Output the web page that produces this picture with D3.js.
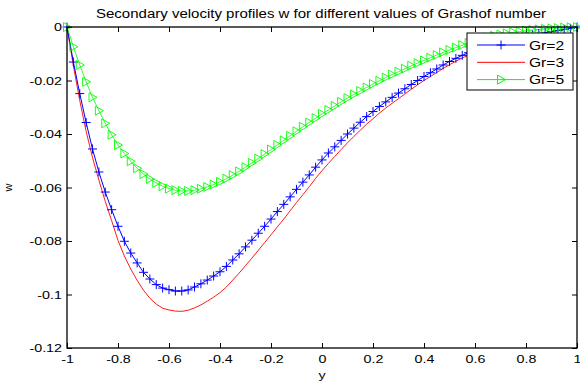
<!DOCTYPE html>
<html>
<head>
<meta charset="utf-8">
<script src="https://cdn.jsdelivr.net/npm/d3@7"></script>
<style>
  body { margin: 0; background: #fff; }
  text { font-family: "Liberation Sans", Arial, sans-serif; fill: #000; }
</style>
</head>
<body>
<div id="chart"></div>
<script>
// grid of y positions (81 points, step 0.025)
const yGrid = [-1,-0.975,-0.95,-0.925,-0.9,-0.875,-0.85,-0.825,-0.8,-0.775,-0.75,-0.725,-0.7,-0.675,-0.65,-0.625,-0.6,-0.575,-0.55,-0.525,
  -0.5,-0.475,-0.45,-0.425,-0.4,-0.375,-0.35,-0.325,-0.3,-0.275,-0.25,-0.225,-0.2,-0.175,-0.15,-0.125,-0.1,-0.075,-0.05,-0.025,
  0,0.025,0.05,0.075,0.1,0.125,0.15,0.175,0.2,0.225,0.25,0.275,0.3,0.325,0.35,0.375,0.4,0.425,0.45,0.475,
  0.5,0.525,0.55,0.575,0.6,0.625,0.65,0.675,0.7,0.725,0.75,0.775,0.8,0.825,0.85,0.875,0.9,0.925,0.95,0.975,1];

const wGr2 = [0,-0.0131,-0.0249,-0.0357,-0.0456,-0.0542,-0.0617,-0.0683,-0.0745,-0.0801,
  -0.0845,-0.0882,-0.0917,-0.0942,-0.0963,-0.0976,-0.0982,-0.0987,-0.0987,-0.0983,
  -0.0972,-0.0960,-0.0946,-0.0931,-0.0915,-0.0895,-0.0871,-0.0848,-0.0822,-0.0797,
  -0.0771,-0.0745,-0.0718,-0.0690,-0.0663,-0.0635,-0.0607,-0.0580,-0.0553,-0.0524,
  -0.0497,-0.0471,-0.0448,-0.0424,-0.0400,-0.0378,-0.0356,-0.0335,-0.0316,-0.0297,
  -0.0280,-0.0263,-0.0247,-0.0231,-0.0215,-0.0200,-0.0185,-0.0171,-0.0157,-0.0142,
  -0.0129,-0.0117,-0.0106,-0.0096,-0.0087,-0.0078,-0.0070,-0.0063,-0.0056,-0.0050,
  -0.0044,-0.0039,-0.0034,-0.0029,-0.0025,-0.0021,-0.0017,-0.0013,-0.0009,-0.0005,0];

const wGr3 = [0,-0.0145,-0.0275,-0.0390,-0.0488,-0.0572,-0.0652,-0.0724,-0.0798,-0.0856,
  -0.0905,-0.0947,-0.0984,-0.1014,-0.1036,-0.1051,-0.1058,-0.1062,-0.1063,-0.1059,
  -0.1050,-0.1039,-0.1025,-0.1010,-0.0993,-0.0972,-0.0946,-0.0920,-0.0892,-0.0864,
  -0.0835,-0.0806,-0.0777,-0.0747,-0.0718,-0.0687,-0.0656,-0.0627,-0.0597,-0.0566,
  -0.0537,-0.0510,-0.0484,-0.0458,-0.0433,-0.0409,-0.0386,-0.0363,-0.0343,-0.0322,
  -0.0303,-0.0285,-0.0268,-0.0250,-0.0233,-0.0216,-0.0200,-0.0185,-0.0170,-0.0155,
  -0.0141,-0.0128,-0.0116,-0.0105,-0.0095,-0.0085,-0.0076,-0.0068,-0.0061,-0.0054,
  -0.0048,-0.0042,-0.0037,-0.0032,-0.0027,-0.0023,-0.0018,-0.0014,-0.0010,-0.0005,0];

const wGr5 = [0,-0.0074,-0.0142,-0.0205,-0.0263,-0.0313,-0.0360,-0.0403,-0.0441,-0.0473,
  -0.0502,-0.0528,-0.0550,-0.0568,-0.0583,-0.0595,-0.0604,-0.0610,-0.0613,-0.0613,
  -0.0610,-0.0605,-0.0598,-0.0589,-0.0579,-0.0567,-0.0554,-0.0540,-0.0524,-0.0508,
  -0.0492,-0.0475,-0.0458,-0.0441,-0.0424,-0.0407,-0.0390,-0.0373,-0.0357,-0.0341,
  -0.0325,-0.0310,-0.0295,-0.0280,-0.0266,-0.0252,-0.0239,-0.0226,-0.0213,-0.0201,
  -0.0189,-0.0178,-0.0167,-0.0156,-0.0145,-0.0135,-0.0125,-0.0115,-0.0105,-0.0095,
  -0.0086,-0.0077,-0.0068,-0.0060,-0.0052,-0.0045,-0.0039,-0.0033,-0.0028,-0.0024,
  -0.0020,-0.0017,-0.0014,-0.0011,-0.0009,-0.0007,-0.0005,-0.0004,-0.0002,-0.0001,0];

const seriesNames = ["Gr=2", "Gr=3", "Gr=5"];
const xTicks = [-1, -0.8, -0.6, -0.4, -0.2, 0, 0.2, 0.4, 0.6, 0.8, 1];
const yTicks = [-0.12, -0.1, -0.08, -0.06, -0.04, -0.02, 0];

const width = 580;
const height = 385;
const margin = { top: 27, right: 3, bottom: 37, left: 67 };
const stretch = 1.3; // the original text is wider than it is tall

const svg = d3.select("#chart")
  .append("svg")
  .attr("width", width)
  .attr("height", height);

const x = d3.scaleLinear().domain([-1, 1]).range([margin.left, width - margin.right]);
const y = d3.scaleLinear().domain([-0.12, 0]).range([height - margin.bottom, margin.top]);

// axes, ticks pointing inward like matlab
const xAxis = svg.append("g")
  .attr("transform", `translate(0,${height - margin.bottom})`)
  .call(d3.axisBottom(x).tickValues(xTicks).tickFormat(d => String(d))
    .tickSizeInner(-5).tickSizeOuter(0).tickPadding(7));
const yAxis = svg.append("g")
  .attr("transform", `translate(${margin.left},0)`)
  .call(d3.axisLeft(y).tickValues(yTicks).tickFormat(d => String(d))
    .tickSizeInner(-5).tickSizeOuter(0).tickPadding(5));
svg.append("g")
  .attr("transform", `translate(0,${margin.top})`)
  .call(d3.axisTop(x).tickValues(xTicks).tickFormat("").tickSizeInner(-5).tickSizeOuter(0));
svg.append("g")
  .attr("transform", `translate(${width - margin.right},0)`)
  .call(d3.axisRight(y).tickValues(yTicks).tickFormat("").tickSizeInner(-5).tickSizeOuter(0));

svg.selectAll(".domain").remove();
svg.selectAll(".tick line").attr("stroke", "#000");

xAxis.selectAll("text")
  .style("font-size", "11px")
  .attr("transform", `scale(${stretch},1)`);
yAxis.selectAll("text")
  .style("font-size", "11px")
  .attr("x", -5 / stretch)
  .attr("transform", `scale(${stretch},1)`);

// data lines
const rows = k => yGrid.map((v, i) => [v, k[i]]);
const line = d3.line().x(d => x(d[0])).y(d => y(d[1]));

svg.append("path")
  .datum(rows(wGr3))
  .attr("fill", "none")
  .attr("stroke", "#ff0000")
  .attr("stroke-width", 0.9)
  .attr("d", line);

svg.append("path")
  .datum(rows(wGr2))
  .attr("fill", "none")
  .attr("stroke", "#0000ff")
  .attr("stroke-width", 1)
  .attr("d", line);

svg.append("path")
  .datum(rows(wGr5))
  .attr("fill", "none")
  .attr("stroke", "#00ff00")
  .attr("stroke-width", 0.8)
  .attr("d", line);

const plusPath = "M-4.5,0H4.5M0,-4.5V4.5";
const triPath = "M-3.5,-4.5L4.5,0L-3.5,4.5Z";

svg.append("g").selectAll("path")
  .data(rows(wGr2))
  .join("path")
  .attr("transform", d => `translate(${x(d[0])},${y(d[1])})`)
  .attr("d", plusPath)
  .attr("fill", "none")
  .attr("stroke", "#0000ff")
  .attr("stroke-width", 1);

svg.append("g").selectAll("path")
  .data(rows(wGr5))
  .join("path")
  .attr("transform", d => `translate(${x(d[0])},${y(d[1])})`)
  .attr("d", triPath)
  .attr("fill", "none")
  .attr("stroke", "#00ff00")
  .attr("stroke-width", 0.9);

// box
svg.append("rect")
  .attr("x", margin.left)
  .attr("y", margin.top)
  .attr("width", width - margin.left - margin.right)
  .attr("height", height - margin.top - margin.bottom)
  .attr("fill", "none")
  .attr("stroke", "#000")
  .attr("stroke-width", 1.3);

// title + labels
svg.append("text")
  .attr("x", 321)
  .attr("y", 18)
  .attr("text-anchor", "middle")
  .attr("textLength", 450)
  .attr("lengthAdjust", "spacingAndGlyphs")
  .style("font-size", "12px")
  .text("Secondary velocity profiles w for different values of Grashof number");

svg.append("text")
  .attr("transform", `translate(${x(0)},379) scale(${stretch},1)`)
  .attr("text-anchor", "middle")
  .style("font-size", "11px")
  .text("y");

svg.append("text")
  .attr("transform", `translate(12,${y(-0.06)}) rotate(-90)`)
  .attr("text-anchor", "middle")
  .style("font-size", "11px")
  .text("w");

// legend
const legend = svg.append("g").attr("transform", "translate(467,33)");
legend.append("rect")
  .attr("width", 106)
  .attr("height", 57)
  .attr("fill", "#fff")
  .attr("stroke", "#000")
  .attr("stroke-width", 1);

const legendColors = ["#0000ff", "#ff0000", "#00ff00"];
const legendMarks = [plusPath, null, triPath];
const items = legend.selectAll(".legend-item")
  .data(seriesNames)
  .join("g")
  .attr("class", "legend-item")
  .attr("transform", (d, i) => `translate(0,${12 + i * 17.3})`);
items.append("line")
  .attr("x1", 10)
  .attr("x2", 58)
  .attr("stroke", (d, i) => legendColors[i])
  .attr("stroke-width", 1);
items.filter((d, i) => legendMarks[i])
  .append("path")
  .attr("transform", "translate(34,0)")
  .attr("d", (d, i) => legendMarks[seriesNames.indexOf(d)])
  .attr("fill", "none")
  .attr("stroke", d => legendColors[seriesNames.indexOf(d)]);
items.append("text")
  .attr("transform", `translate(62,4.5) scale(${stretch},1)`)
  .style("font-size", "12px")
  .text(d => d);
</script>
</body>
</html>
